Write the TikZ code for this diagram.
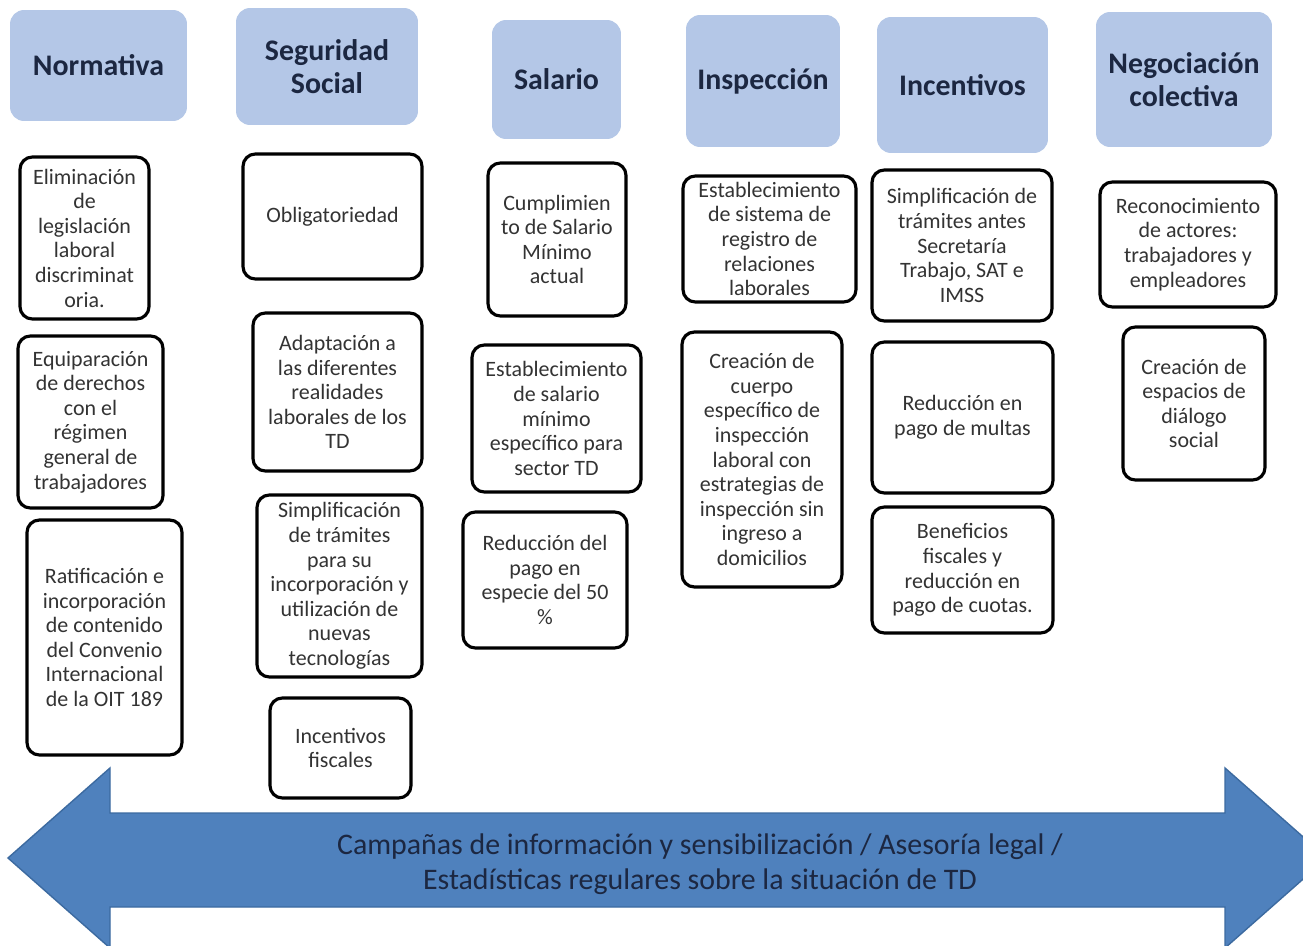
\documentclass[tikz,border=0pt]{standalone}
\usepackage{fontspec}
\setmainfont{Carlito}
\definecolor{headblue}{HTML}{B4C7E7}
\definecolor{arrowblue}{HTML}{4F81BD}
\definecolor{arrowline}{HTML}{3C6AA0}
\definecolor{navy}{HTML}{1C2741}
\definecolor{itemgray}{HTML}{333333}
\tikzset{
  basic/.style = {rectangle, align=center, inner sep=2pt},
  head/.style  = {basic, rounded corners=8pt, fill=headblue, text=navy,
                  font=\fontsize{17}{19}\selectfont\bfseries},
  item/.style  = {basic, draw, line width=1.8pt, rounded corners=7pt, fill=white,
                  text=itemgray, font=\fontsize{12.5}{14}\selectfont}
}
\begin{document}
\begin{tikzpicture}[x=0.02cm,y=-0.02cm]
\useasboundingbox (0,0) rectangle (1303,946);
\clip (0,0) rectangle (1303,946);
\fill[white] (0,0) rectangle (1303,946);

\node[head, minimum width=3.54cm, minimum height=2.22cm] (normativa) at (98.5,65.5) {Normativa};
\node[head, minimum width=3.64cm, minimum height=2.34cm] (seguridad) at (327,66.5) {Seguridad\\Social};
\node[head, minimum width=2.58cm, minimum height=2.38cm] (salario) at (556.5,79.5) {Salario};
\node[head, minimum width=3.08cm, minimum height=2.64cm] (inspeccion) at (763,81) {Inspección};
\node[head, minimum width=3.42cm, minimum height=2.72cm] (incentivos) at (962.5,85) {Incentivos};
\node[head, minimum width=3.52cm, minimum height=2.70cm] (negociacion) at (1184,79.5) {Negociación\\colectiva};

\node[item, minimum width=2.58cm, minimum height=3.24cm] (norm1) at (84.5,238) {Eliminación\\de\\legislación\\laboral\\discriminat\\oria.};
\node[item, minimum width=2.90cm, minimum height=3.44cm] (norm2) at (90.5,422) {Equiparación\\de derechos\\con el\\régimen\\general de\\trabajadores};
\node[item, minimum width=3.10cm, minimum height=4.70cm] (norm3) at (104.5,637.5) {Ratificación e\\incorporación\\de contenido\\del Convenio\\Internacional\\de la OIT 189};

\node[item, minimum width=3.58cm, minimum height=2.50cm] (seg1) at (332.5,216.5) {Obligatoriedad};
\node[item, minimum width=3.38cm, minimum height=3.16cm] (seg2) at (337.5,392) {Adaptación a\\las diferentes\\realidades\\laborales de los\\TD};
\node[item, minimum width=3.30cm, minimum height=3.64cm] (seg3) at (339.5,586) {Simplificación\\de trámites\\para su\\incorporación y\\utilización de\\nuevas\\tecnologías};
\node[item, minimum width=2.82cm, minimum height=2.00cm] (seg4) at (340.5,748) {Incentivos\\fiscales};

\node[item, minimum width=2.76cm, minimum height=3.06cm] (sal1) at (557,239.5) {Cumplimien\\to de Salario\\Mínimo\\actual};
\node[item, minimum width=3.38cm, minimum height=2.94cm] (sal2) at (556.5,418.5) {Establecimiento\\de salario\\mínimo\\específico para\\sector TD};
\node[item, minimum width=3.28cm, minimum height=2.72cm] (sal3) at (545,580) {Reducción del\\pago en\\especie del 50\\\%};

\node[item, minimum width=3.46cm, minimum height=2.52cm, inner sep=0pt] (insp1) at (769.5,239) {Establecimiento\\de sistema de\\registro de\\relaciones\\laborales};
\node[item, minimum width=3.20cm, minimum height=5.10cm] (insp2) at (762,459.5) {Creación de\\cuerpo\\específico de\\inspección\\laboral con\\estrategias de\\inspección sin\\ingreso a\\domicilios};

\node[item, minimum width=3.60cm, minimum height=3.02cm] (inc1) at (962,245.5) {Simplificación de\\trámites antes\\Secretaría\\Trabajo, SAT e\\IMSS};
\node[item, minimum width=3.62cm, minimum height=3.02cm] (inc2) at (962.5,417.5) {Reducción en\\pago de multas};
\node[item, minimum width=3.62cm, minimum height=2.52cm] (inc3) at (962.5,570) {Beneficios\\fiscales y\\reducción en\\pago de cuotas.};

\node[item, minimum width=3.52cm, minimum height=2.50cm] (neg1) at (1188,244.5) {Reconocimiento\\de actores:\\trabajadores y\\empleadores};
\node[item, minimum width=2.84cm, minimum height=3.06cm] (neg2) at (1194,403.5) {Creación de\\espacios de\\diálogo\\social};

\filldraw[fill=arrowblue, draw=arrowline, line width=0.8pt]
  (8,858) -- (110,768) -- (110,813) -- (1225,813) -- (1225,768) -- (1327,858)
  -- (1225,948) -- (1225,907) -- (110,907) -- (110,948) -- cycle;
\node[basic, text=navy, font=\fontsize{17}{19.8}\selectfont] (campanas) at (700,864.5)
  {Campañas de información y sensibilización / Asesoría legal /\\Estadísticas regulares sobre la situación de TD};
\end{tikzpicture}
\end{document}
